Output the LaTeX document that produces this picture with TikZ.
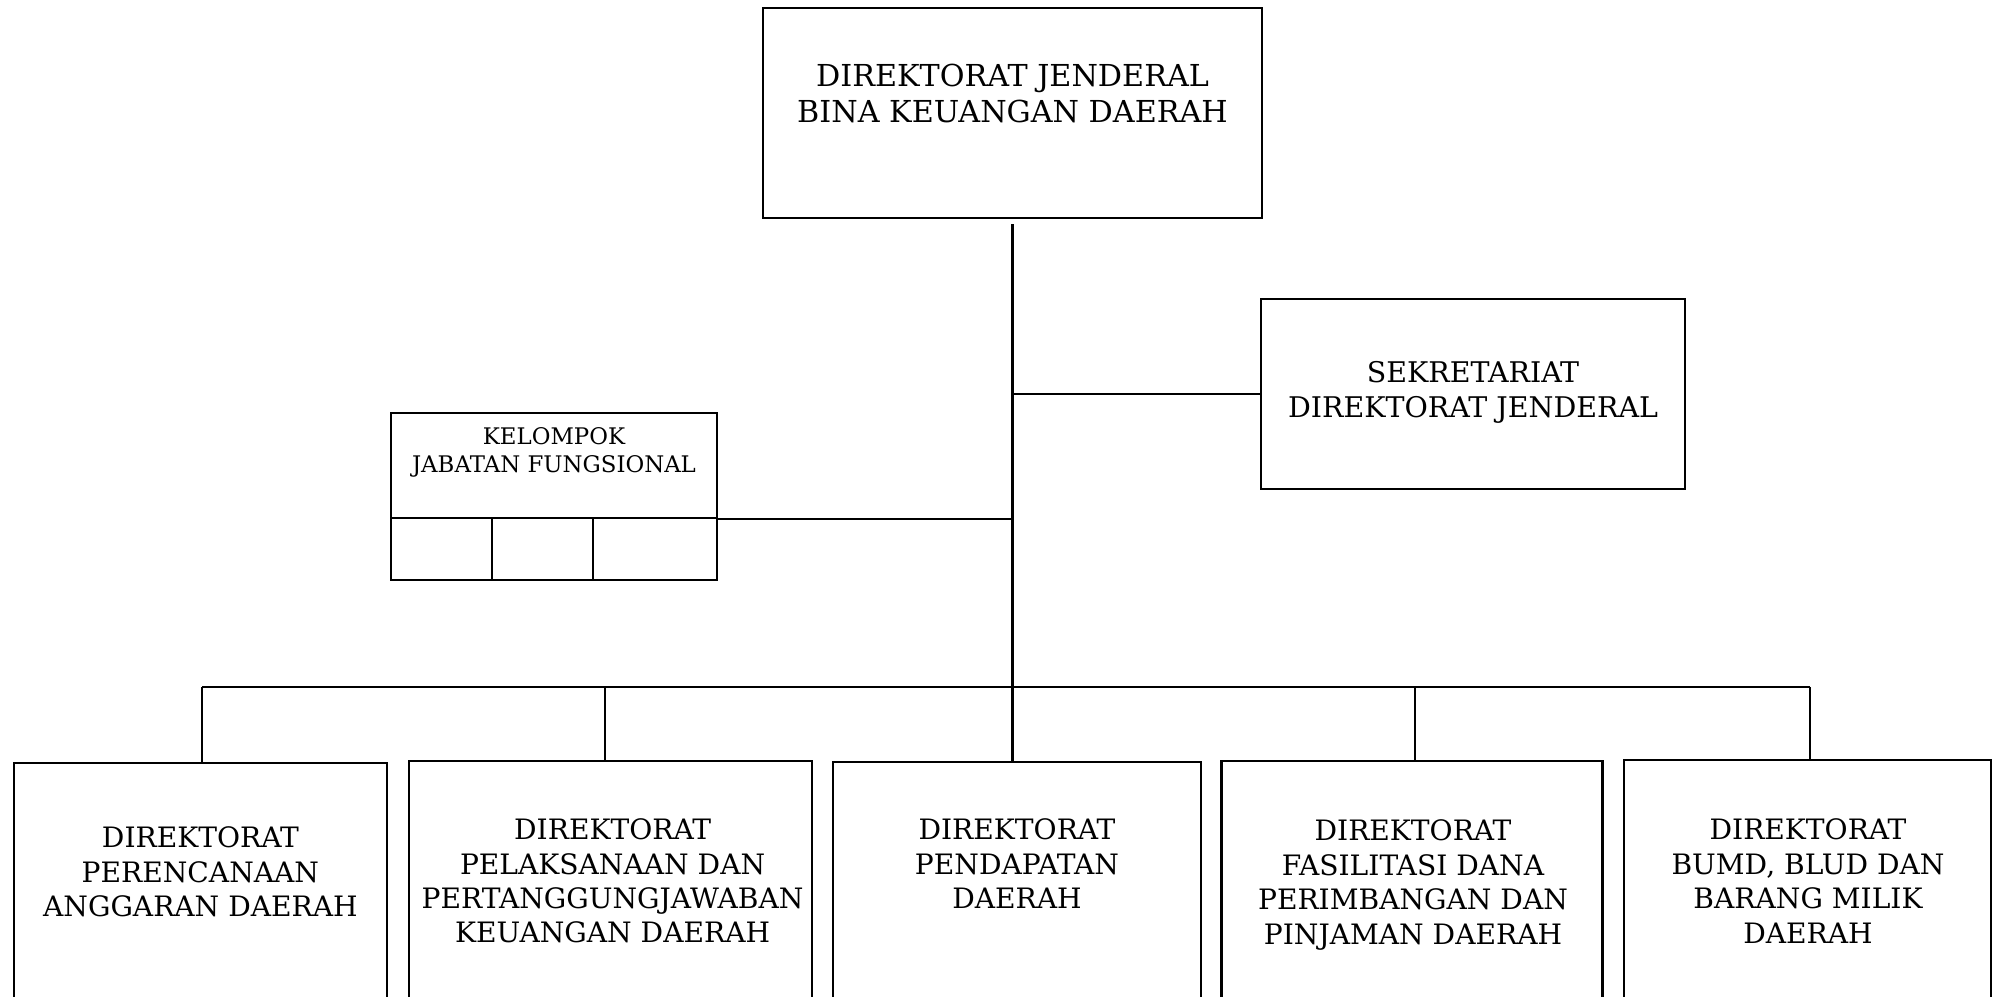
\documentclass[tikz,border=0pt]{standalone}
\usepackage{fontspec}
\setmainfont{DejaVu Serif}
\usetikzlibrary{positioning}
\tikzset{
  orgline/.style={line width=0.6pt},
  orgbox/.style={draw, line width=0.6pt, rectangle, inner sep=0pt},
  dirbox/.style={orgbox, anchor=north, minimum height=2.6cm},
  cellbox/.style={orgbox, minimum height=0.62cm},
  toptext/.style={align=center, font=\fontsize{8.6}{10.5}\selectfont},
  sektext/.style={align=center, font=\fontsize{8.1}{9.9}\selectfont},
  kjftext/.style={align=center, font=\fontsize{6.5}{8}\selectfont},
  dirtext/.style={align=center, font=\fontsize{8.0}{9.8}\selectfont}
}

\begin{document}
\begin{tikzpicture}
  \clip (0,0) rectangle (19.95,9.96);
  \node[orgbox, minimum width=4.99cm, minimum height=2.10cm] (dirjen) at (10.125,8.83) {};
  \node[toptext] (dirjentxt) at (10.125,9.025) {DIREKTORAT JENDERAL\\BINA KEUANGAN DAERAH};

  \node[orgbox, minimum width=4.24cm, minimum height=1.90cm] (sek) at (14.73,6.02) {};
  \node[sektext] (sektxt) at (14.73,6.035) {SEKRETARIAT\\DIREKTORAT JENDERAL};

  \node[orgbox, minimum width=3.26cm, minimum height=1.05cm] (kjf) at (5.54,5.305) {};
  \node[kjftext] (kjftxt) at (5.54,5.44) {KELOMPOK\\JABATAN FUNGSIONAL};
  \node[cellbox, minimum width=1.01cm] (cell1) at (4.415,4.47) {};
  \node[cellbox, minimum width=1.01cm] (cell2) at (5.425,4.47) {};
  \node[cellbox, minimum width=1.24cm] (cell3) at (6.55,4.47) {};

  \node[dirbox, minimum width=3.73cm] (d1) at (2.005,2.34) {};
  \node[dirbox, minimum width=4.03cm] (d2) at (6.107,2.36) {};
  \node[dirbox, minimum width=3.675cm] (d3) at (10.17,2.35) {};
  \node[dirbox, minimum width=3.81cm] (d4) at (14.12,2.36) {};
  \node[dirbox, minimum width=3.67cm] (d5) at (18.075,2.37) {};
  \node[dirtext] (t1) at (2.004,1.24) {DIREKTORAT\\PERENCANAAN\\ANGGARAN DAERAH};
  \node[dirtext] (t2) at (6.126,1.15) {DIREKTORAT\\PELAKSANAAN DAN\\PERTANGGUNGJAWABAN\\KEUANGAN DAERAH};
  \node[dirtext] (t3) at (10.17,1.32) {DIREKTORAT\\PENDAPATAN\\DAERAH};
  \node[dirtext] (t4) at (14.13,1.11) {DIREKTORAT\\FASILITASI DANA\\PERIMBANGAN DAN\\PINJAMAN DAERAH};
  \node[dirtext] (t5) at (18.08,1.15) {DIREKTORAT\\BUMD, BLUD DAN\\BARANG MILIK\\DAERAH};

  \draw[orgline] ([yshift=-0.05cm]dirjen.south) -- (dirjen.south |- d3.north);
  \draw[orgline] (dirjen.south |- sek.west) -- (sek.west);
  \draw[orgline] (kjf.south east) -- (dirjen.south |- kjf.south east);

  \foreach \i/\x in {1/2.02, 2/6.046, 3/10.13, 4/14.15, 5/18.10}
    \coordinate (b\i) at (\x,3.09);
  \draw[orgline] (b1) -- (b5);
  \foreach \i in {1,2,4,5}
    \draw[orgline] (b\i) -- (b\i |- d\i.north);
\end{tikzpicture}
\end{document}
